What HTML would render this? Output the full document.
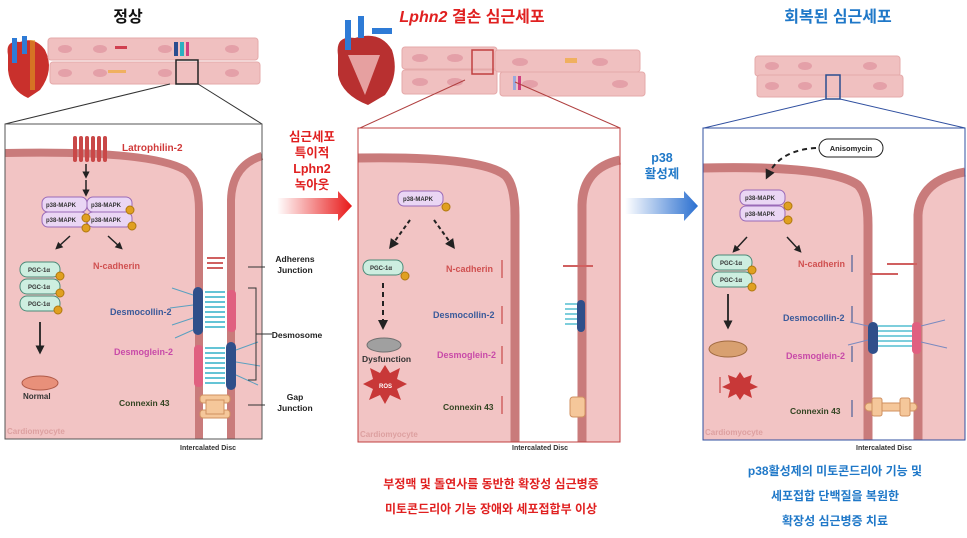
<!DOCTYPE html>
<html><head><meta charset="utf-8"><style>
body{margin:0;background:#fff}
svg{display:block}
text{font-family:"Liberation Sans","Noto Sans CJK KR",sans-serif;font-weight:bold}
</style></head><body>
<svg width="967" height="538" viewBox="0 0 967 538" xmlns="http://www.w3.org/2000/svg">
<defs>
<linearGradient id="gr" x1="0" x2="1"><stop offset="0" stop-color="#fff"/><stop offset="1" stop-color="#e81818"/></linearGradient>
<linearGradient id="gb" x1="0" x2="1"><stop offset="0" stop-color="#fff"/><stop offset="1" stop-color="#2a6fd0"/></linearGradient>
<marker id="ar" viewBox="0 0 10 10" refX="5" refY="5" markerWidth="5" markerHeight="5" orient="auto"><path d="M0,0L10,5L0,10z" fill="#222"/></marker>
</defs>

<!-- titles -->
<text x="128" y="22" font-size="16" text-anchor="middle" fill="#111">정상</text>
<text x="472" y="22" font-size="16" text-anchor="middle" fill="#e02020"><tspan font-style="italic">Lphn2</tspan> 결손 심근세포</text>
<text x="838" y="22" font-size="16" text-anchor="middle" fill="#1f78c8">회복된 심근세포</text>

<!-- hearts -->
<g>
<path d="M8,55 Q5,40 20,42 Q35,36 45,50 Q55,70 40,90 L28,98 Q10,90 8,70z" fill="#c9302c"/>
<rect x="12" y="38" width="5" height="25" fill="#2e7bd6"/><rect x="22" y="36" width="5" height="18" fill="#2e7bd6"/>
<rect x="30" y="40" width="5" height="50" fill="#e0a020" opacity=".6"/>
</g>
<g>
<path d="M338,55 Q335,35 355,38 Q380,30 392,50 Q400,75 385,95 L368,105 Q342,95 338,75z" fill="#b83030"/>
<path d="M348,55 L365,95 L380,55z" fill="#e6a0a0"/>
<rect x="345" y="20" width="6" height="30" fill="#2e7bd6"/><rect x="358" y="16" width="6" height="22" fill="#2e7bd6"/><rect x="372" y="28" width="20" height="6" fill="#2e7bd6"/>
</g>

<!-- strips -->
<g fill="#f0c0c0" stroke="#e5aaaa" stroke-width="1">
<rect x="48" y="38" width="210" height="22" rx="3"/><rect x="50" y="62" width="210" height="22" rx="3"/>
<rect x="402" y="47" width="95" height="22" rx="3"/><rect x="495" y="50" width="145" height="22" rx="3"/>
<rect x="402" y="70" width="95" height="24" rx="3"/><rect x="500" y="72" width="145" height="24" rx="3"/>
<rect x="755" y="56" width="145" height="20" rx="3"/><rect x="757" y="75" width="146" height="22" rx="3"/>
</g>
<g fill="#e4a0a8">
<ellipse cx="65" cy="49" rx="7" ry="4"/><ellipse cx="100" cy="49" rx="7" ry="4"/><ellipse cx="165" cy="49" rx="7" ry="4"/><ellipse cx="232" cy="49" rx="7" ry="4"/>
<ellipse cx="65" cy="73" rx="7" ry="4"/><ellipse cx="100" cy="73" rx="7" ry="4"/><ellipse cx="165" cy="73" rx="7" ry="4"/><ellipse cx="232" cy="73" rx="7" ry="4"/>
<ellipse cx="420" cy="58" rx="8" ry="4"/><ellipse cx="455" cy="58" rx="8" ry="4"/><ellipse cx="520" cy="62" rx="8" ry="4"/><ellipse cx="600" cy="62" rx="8" ry="4"/>
<ellipse cx="420" cy="82" rx="8" ry="4"/><ellipse cx="455" cy="82" rx="8" ry="4"/><ellipse cx="530" cy="84" rx="8" ry="4"/><ellipse cx="620" cy="84" rx="8" ry="4"/>
<ellipse cx="772" cy="66" rx="7" ry="4"/><ellipse cx="805" cy="66" rx="7" ry="4"/><ellipse cx="870" cy="66" rx="7" ry="4"/>
<ellipse cx="772" cy="86" rx="7" ry="4"/><ellipse cx="805" cy="86" rx="7" ry="4"/><ellipse cx="880" cy="86" rx="7" ry="4"/>
</g>
<rect x="174" y="42" width="4" height="14" fill="#2a4d8f"/><rect x="180" y="42" width="4" height="14" fill="#2ab0c0"/><rect x="186" y="42" width="3" height="14" fill="#d04080"/>
<rect x="115" y="46" width="12" height="3" fill="#d04050"/><rect x="108" y="70" width="18" height="3" fill="#f0b060"/>
<rect x="565" y="58" width="12" height="5" fill="#f0b060"/><rect x="513" y="76" width="3" height="14" fill="#9ad"/><rect x="518" y="76" width="3" height="14" fill="#d04080"/>

<!-- zoom boxes and lines -->
<rect x="176" y="60" width="22" height="24" fill="none" stroke="#222" stroke-width="1.5"/>
<line x1="170" y1="84" x2="5" y2="124" stroke="#333"/><line x1="198" y1="84" x2="262" y2="124" stroke="#333"/>
<rect x="472" y="50" width="21" height="24" fill="none" stroke="#c04040" stroke-width="1.5"/>
<line x1="465" y1="80" x2="360" y2="128" stroke="#b04040"/><line x1="515" y1="82" x2="620" y2="128" stroke="#b04040"/>
<rect x="826" y="75" width="14" height="24" fill="none" stroke="#2a4d8f" stroke-width="1.5"/>
<line x1="826" y1="99" x2="704" y2="128" stroke="#3050a0"/><line x1="840" y1="99" x2="965" y2="128" stroke="#3050a0"/>

<!-- ========== panel 1 ========== -->
<g>
<rect x="5" y="124" width="257" height="315" fill="#fff"/>
<path d="M5,153 Q150,150 185,170 Q199,180 199,210 L199,439 L5,439z" fill="#f2c4c4"/>
<path d="M5,153 Q150,150 185,170 Q199,180 199,210 L199,439" fill="none" stroke="#c97b7b" stroke-width="8"/>
<path d="M262,156 Q232,165 231,200 L231,439 L262,439z" fill="#f2c4c4"/>
<path d="M262,156 Q232,165 231,200 L231,439" fill="none" stroke="#c97b7b" stroke-width="8"/>
<rect x="5" y="124" width="257" height="315" fill="none" stroke="#555"/>
<!-- latrophilin -->
<g fill="#c94848"><rect x="73" y="136" width="4" height="26" rx="2"/><rect x="79" y="136" width="4" height="26" rx="2"/><rect x="85" y="136" width="4" height="26" rx="2"/><rect x="91" y="136" width="4" height="26" rx="2"/><rect x="97" y="136" width="4" height="26" rx="2"/><rect x="103" y="136" width="4" height="26" rx="2"/></g>
<text x="122" y="151" font-size="10" fill="#d03a3a">Latrophilin-2</text>
<line x1="86" y1="164" x2="86" y2="175" stroke="#222" stroke-width="1.5" marker-end="url(#ar)"/>
<line x1="86" y1="180" x2="86" y2="193" stroke="#222" stroke-width="1.5" marker-end="url(#ar)"/>
<g fill="#ead6f4" stroke="#9a6ab8"><rect x="42" y="197" width="45" height="15" rx="6"/><rect x="87" y="197" width="45" height="15" rx="6"/><rect x="42" y="212" width="45" height="15" rx="6"/><rect x="87" y="212" width="45" height="15" rx="6"/></g>
<g font-size="6" fill="#333" font-weight="normal"><text x="46" y="207">p38-MAPK</text><text x="91" y="207">p38-MAPK</text><text x="46" y="222">p38-MAPK</text><text x="91" y="222">p38-MAPK</text></g>
<g fill="#e0a020" stroke="#b07810"><circle cx="130" cy="210" r="4"/><circle cx="86" cy="218" r="4"/><circle cx="132" cy="226" r="4"/><circle cx="86" cy="228" r="4"/></g>
<line x1="70" y1="236" x2="58" y2="247" stroke="#222" stroke-width="1.5" marker-end="url(#ar)"/>
<line x1="108" y1="236" x2="120" y2="247" stroke="#222" stroke-width="1.5" marker-end="url(#ar)"/>
<g fill="#cdeee0" stroke="#4a8a78"><rect x="20" y="262" width="40" height="15" rx="7"/><rect x="20" y="279" width="40" height="15" rx="7"/><rect x="20" y="296" width="40" height="15" rx="7"/></g>
<g font-size="6" fill="#333" font-weight="normal"><text x="28" y="272">PGC-1α</text><text x="28" y="289">PGC-1α</text><text x="28" y="306">PGC-1α</text></g>
<g fill="#e0a020" stroke="#b07810"><circle cx="60" cy="276" r="4"/><circle cx="60" cy="293" r="4"/><circle cx="58" cy="310" r="4"/></g>
<line x1="40" y1="322" x2="40" y2="350" stroke="#222" stroke-width="1.8" marker-end="url(#ar)"/>
<ellipse cx="40" cy="383" rx="18" ry="7" fill="#e8907a" stroke="#b05a48"/>
<text x="23" y="399" font-size="8" fill="#333">Normal</text>
<text x="93" y="269" font-size="9" fill="#d05050">N-cadherin</text>
<text x="110" y="315" font-size="9" fill="#3a5a9a">Desmocollin-2</text>
<text x="114" y="355" font-size="9" fill="#c84aa8">Desmoglein-2</text>
<text x="119" y="406" font-size="8.5" fill="#334422">Connexin 43</text>
<text x="7" y="434" font-size="8" fill="#dda0a0">Cardiomyocyte</text>
<text x="180" y="450" font-size="7" fill="#333" font-weight="normal">Intercalated Disc</text>
<!-- junctions -->
<g fill="#d06060"><rect x="207" y="257" width="18" height="2"/><rect x="207" y="262" width="16" height="2"/><rect x="207" y="267" width="16" height="2"/></g>
<rect x="193" y="287" width="10" height="48" rx="5" fill="#2f4f8a"/><rect x="227" y="290" width="9" height="42" rx="4" fill="#e06080"/>
<rect x="194" y="345" width="9" height="42" rx="4" fill="#e06080"/><rect x="226" y="342" width="10" height="48" rx="5" fill="#2f4f8a"/>
<g stroke="#30b0c8" stroke-width="1.5"><path d="M205,292H225M205,297H225M205,302H225M205,307H225M205,312H225M205,317H225M205,322H225M205,327H225M205,348H225M205,353H225M205,358H225M205,363H225M205,368H225M205,373H225M205,378H225M205,383H225"/></g>
<g stroke="#5aa0c0" fill="none" stroke-width="1"><path d="M193,295 L172,288 M193,305 L170,308 M193,318 L172,325 M193,330 L175,338 M236,350 L258,342 M236,362 L260,366 M236,375 L258,385"/></g>
<g fill="#f5c79a" stroke="#d09060"><rect x="200" y="395" width="30" height="8" rx="3"/><rect x="200" y="410" width="30" height="8" rx="3"/><rect x="206" y="400" width="18" height="14"/></g>
<line x1="248" y1="267" x2="265" y2="267" stroke="#333"/><line x1="248" y1="405" x2="265" y2="405" stroke="#333"/>
<path d="M248,288 H256 V380 H248 M256,334 H272" fill="none" stroke="#333"/>
</g>
<g font-size="8.5" fill="#222" text-anchor="middle"><text x="295" y="262">Adherens</text><text x="295" y="273">Junction</text><text x="297" y="338">Desmosome</text><text x="295" y="400">Gap</text><text x="295" y="411">Junction</text></g>

<!-- middle arrow -->
<g font-size="12.5" fill="#e02020" text-anchor="middle"><text x="312" y="141">심근세포</text><text x="312" y="157">특이적</text><text x="312" y="173">Lphn2</text><text x="312" y="189">녹아웃</text></g>
<path d="M277,198 H338 V191 L352,206 L338,221 V214 H277z" fill="url(#gr)"/>
<g font-size="12.5" fill="#1f78c8" text-anchor="middle"><text x="662" y="162">p38</text><text x="662" y="178">활성제</text></g>
<path d="M625,198 H684 V191 L698,206 L684,221 V214 H625z" fill="url(#gb)"/>

<!-- ========== panel 2 ========== -->
<g>
<rect x="358" y="128" width="262" height="314" fill="#fff"/>
<path d="M358,158 Q480,156 505,175 Q515,185 515,215 L515,442 L358,442z" fill="#f2c4c4"/>
<path d="M358,158 Q480,156 505,175 Q515,185 515,215 L515,442" fill="none" stroke="#c97b7b" stroke-width="9"/>
<path d="M620,160 Q583,168 582,205 L582,442 L620,442z" fill="#f2c4c4"/>
<path d="M620,160 Q583,168 582,205 L582,442" fill="none" stroke="#c97b7b" stroke-width="9"/>
<rect x="358" y="128" width="262" height="314" fill="none" stroke="#c04040"/>
<rect x="398" y="191" width="45" height="15" rx="6" fill="#ead6f4" stroke="#9a6ab8"/>
<text x="403" y="201" font-size="6" fill="#333" font-weight="normal">p38-MAPK</text>
<circle cx="446" cy="207" r="4" fill="#e0a020" stroke="#b07810"/>
<line x1="410" y1="220" x2="392" y2="245" stroke="#222" stroke-width="2" stroke-dasharray="4,3" marker-end="url(#ar)"/>
<line x1="434" y1="220" x2="452" y2="245" stroke="#222" stroke-width="2" stroke-dasharray="4,3" marker-end="url(#ar)"/>
<rect x="363" y="260" width="40" height="15" rx="7" fill="#cdeee0" stroke="#4a8a78"/>
<text x="370" y="270" font-size="6" fill="#333" font-weight="normal">PGC-1α</text>
<circle cx="405" cy="276" r="4" fill="#e0a020" stroke="#b07810"/>
<line x1="383" y1="283" x2="383" y2="325" stroke="#222" stroke-width="2" stroke-dasharray="5,4" marker-end="url(#ar)"/>
<ellipse cx="384" cy="345" rx="17" ry="7" fill="#a0a0a0" stroke="#707070"/>
<text x="362" y="362" font-size="8.5" fill="#333">Dysfunction</text>
<path d="M385,365 L390,373 L400,368 L397,379 L407,384 L397,389 L401,400 L390,395 L385,404 L380,395 L369,400 L373,389 L363,384 L373,379 L370,368 L380,373z" fill="#c83838"/>
<text x="379" y="388" font-size="6" fill="#fff">ROS</text>
<text x="446" y="272" font-size="9" fill="#d05050">N-cadherin</text>
<text x="433" y="318" font-size="9" fill="#3a5a9a">Desmocollin-2</text>
<text x="437" y="358" font-size="9" fill="#c84aa8">Desmoglein-2</text>
<text x="443" y="410" font-size="8.5" fill="#334422">Connexin 43</text>
<g stroke="#c03030" stroke-width="1"><path d="M502,260V278M502,306V324M502,346V364M502,396V414"/></g>
<text x="360" y="437" font-size="8" fill="#dda0a0">Cardiomyocyte</text>
<text x="512" y="450" font-size="7" fill="#333" font-weight="normal">Intercalated Disc</text>
<rect x="563" y="265" width="30" height="2" fill="#d06060"/>
<rect x="577" y="300" width="8" height="32" rx="4" fill="#2f4f8a"/>
<g stroke="#30b0c8" stroke-width="1.2"><path d="M565,304H577M565,309H577M565,314H577M565,319H577M565,324H577"/></g>
<g fill="#f5c79a" stroke="#d09060"><rect x="570" y="397" width="15" height="20" rx="3"/></g>

<!-- bottom red text -->
<g font-size="12" fill="#e02020" text-anchor="middle"><text x="491" y="488">부정맥 및 돌연사를 동반한 확장성 심근병증</text><text x="491" y="513">미토콘드리아 기능 장애와 세포접합부 이상</text></g>
</g>

<!-- ========== panel 3 ========== -->
<g>
<rect x="703" y="128" width="262" height="312" fill="#fff"/>
<path d="M703,168 Q830,165 858,185 Q868,195 868,225 L868,440 L703,440z" fill="#f2c4c4"/>
<path d="M703,168 Q830,165 858,185 Q868,195 868,225 L868,440" fill="none" stroke="#c97b7b" stroke-width="9"/>
<path d="M965,172 Q920,180 918,215 L918,440 L965,440z" fill="#f2c4c4"/>
<path d="M965,172 Q920,180 918,215 L918,440" fill="none" stroke="#c97b7b" stroke-width="9"/>
<rect x="703" y="128" width="262" height="312" fill="none" stroke="#3050a0"/>
<rect x="819" y="139" width="64" height="18" rx="9" fill="#fff" stroke="#222"/>
<text x="851" y="151" font-size="7.5" fill="#222" text-anchor="middle" font-weight="normal">Anisomycin</text>
<path d="M816,148 Q780,150 768,175" fill="none" stroke="#222" stroke-width="2" stroke-dasharray="5,4" marker-end="url(#ar)"/>
<g fill="#ead6f4" stroke="#9a6ab8"><rect x="740" y="190" width="45" height="15" rx="6"/><rect x="740" y="206" width="45" height="15" rx="6"/></g>
<g font-size="6" fill="#333" font-weight="normal"><text x="745" y="200">p38-MAPK</text><text x="745" y="216">p38-MAPK</text></g>
<g fill="#e0a020" stroke="#b07810"><circle cx="788" cy="206" r="4"/><circle cx="788" cy="220" r="4"/></g>
<line x1="747" y1="237" x2="735" y2="250" stroke="#222" stroke-width="1.5" marker-end="url(#ar)"/>
<line x1="787" y1="237" x2="799" y2="250" stroke="#222" stroke-width="1.5" marker-end="url(#ar)"/>
<g fill="#cdeee0" stroke="#4a8a78"><rect x="712" y="255" width="40" height="15" rx="7"/><rect x="712" y="272" width="40" height="15" rx="7"/></g>
<g font-size="6" fill="#333" font-weight="normal"><text x="720" y="265">PGC-1α</text><text x="720" y="282">PGC-1α</text></g>
<g fill="#e0a020" stroke="#b07810"><circle cx="752" cy="270" r="4"/><circle cx="752" cy="287" r="4"/></g>
<line x1="728" y1="294" x2="728" y2="325" stroke="#222" stroke-width="1.8" marker-end="url(#ar)"/>
<ellipse cx="728" cy="349" rx="19" ry="8" fill="#d8a070" stroke="#a06a40"/>
<line x1="720" y1="377" x2="720" y2="393" stroke="#c03030"/>
<path d="M740,372 L744,378 L752,375 L750,383 L758,387 L750,390 L752,398 L744,394 L740,400 L736,394 L728,398 L730,390 L722,387 L730,383 L728,375 L736,378z" fill="#c83838"/>
<text x="798" y="267" font-size="9" fill="#d05050">N-cadherin</text>
<text x="783" y="321" font-size="9" fill="#3a5a9a">Desmocollin-2</text>
<text x="786" y="359" font-size="9" fill="#c84aa8">Desmoglein-2</text>
<text x="790" y="414" font-size="8.5" fill="#334422">Connexin 43</text>
<g stroke="#2a4d8f" stroke-width="1"><path d="M852,255V272M852,306V323M852,346V362M852,400V417"/></g>
<text x="705" y="435" font-size="8" fill="#dda0a0">Cardiomyocyte</text>
<text x="856" y="450" font-size="7" fill="#333" font-weight="normal">Intercalated Disc</text>
<rect x="887" y="263" width="30" height="2" fill="#d06060"/><rect x="870" y="273" width="28" height="2" fill="#d06060"/>
<rect x="868" y="322" width="10" height="32" rx="5" fill="#2f4f8a"/><rect x="912" y="322" width="9" height="32" rx="4" fill="#e06080"/>
<g stroke="#30b0c8" stroke-width="1.2"><path d="M878,326H912M878,331H912M878,336H912M878,341H912M878,346H912"/></g>
<g stroke="#7a8ac0" fill="none"><path d="M868,326L850,322M868,340L848,345M921,326L945,320M921,342L947,348"/></g>
<g fill="#f5c79a" stroke="#d09060"><rect x="865" y="403" width="52" height="8" rx="4"/><rect x="872" y="398" width="10" height="18" rx="2"/><rect x="900" y="398" width="10" height="18" rx="2"/></g>
</g>
<g font-size="12" fill="#1f78c8" text-anchor="middle"><text x="835" y="475">p38활성제의 미토콘드리아 기능 및</text><text x="835" y="500">세포접합 단백질을 복원한</text><text x="835" y="525">확장성 심근병증 치료</text></g>
</svg>
</body></html>
